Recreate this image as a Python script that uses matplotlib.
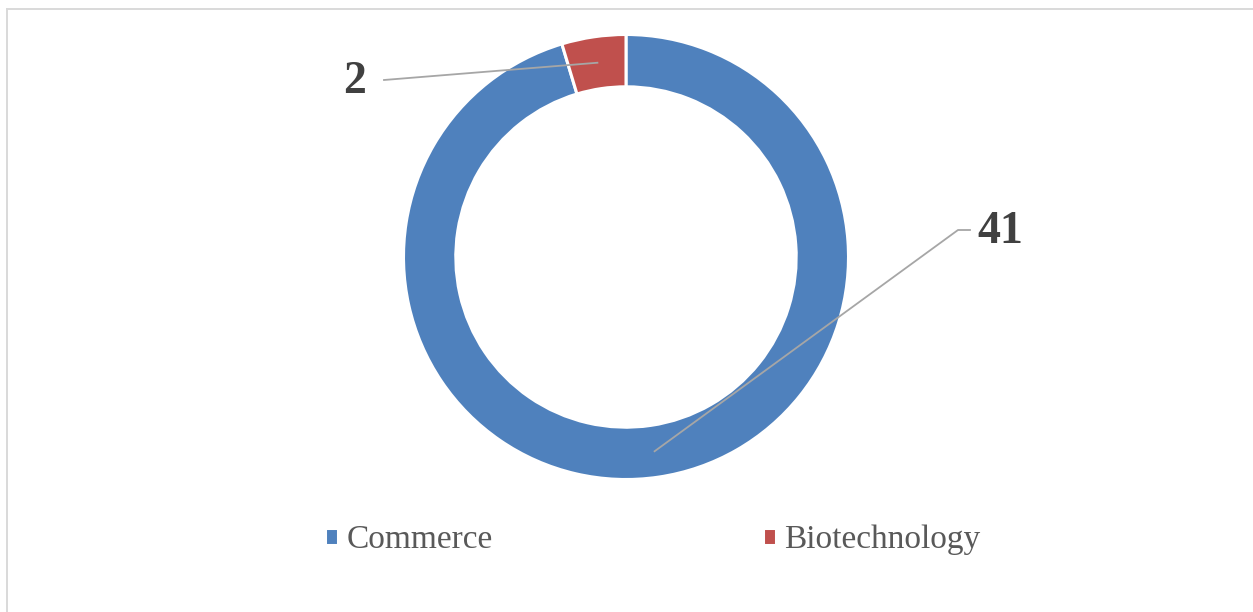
import numpy as np
import matplotlib
matplotlib.use("Agg")
import matplotlib.pyplot as plt
from matplotlib.lines import Line2D

categories = ["Commerce", "Biotechnology"]
values = [41, 2]
colors = ["#4f81bd", "#c0504d"]

W, H, DPI = 1253, 612, 100
plt.rcParams['font.family'] = ['Liberation Serif', 'DejaVu Serif']

fig = plt.figure(figsize=(W / DPI, H / DPI), dpi=DPI)
fig.patch.set_facecolor("white")

cx, cy, R = 626, 257, 222.5
ax = fig.add_axes([(cx - R) / W, (H - cy - R) / H, 2 * R / W, 2 * R / H])
ring = 0.235
wedges, _ = ax.pie(values, colors=colors, startangle=90, counterclock=False,
                   radius=1, wedgeprops=dict(width=ring, edgecolor="white", linewidth=2.2))
ax.set_xlim(-1, 1)
ax.set_ylim(-1, 1)
ax.set_aspect("equal")
ax.axis("off")

def px2d(px, py):
    return ((px - cx) / R, (cy - py) / R)

# label anchors from wedge midpoints
rmid = 1 - ring / 2
label_specs = [
    # (text pos px, elbow start px, elbow end px)
    ((1000, 232), (970, 230), (958, 230)),   # Commerce
    ((355, 82), (384, 80), (384, 80)),       # Biotechnology
]
for w, v, (tp, e1, e2) in zip(wedges, values, label_specs):
    ang = np.deg2rad((w.theta1 + w.theta2) / 2)
    ax_pt = (rmid * np.cos(ang), rmid * np.sin(ang))
    p1 = px2d(*e1)
    p2 = px2d(*e2)
    ax.plot([p1[0], p2[0], ax_pt[0]], [p1[1], p2[1], ax_pt[1]], color="#a6a6a6",
            lw=1.3, clip_on=False, zorder=5)
    t = px2d(*tp)
    ax.text(t[0], t[1], str(v), ha="center", va="center", fontsize=33,
            fontweight="bold", color="#404040", clip_on=False)

leg = fig.legend(wedges, categories, loc="center", ncol=2,
                 bbox_to_anchor=(653 / W, 1 - 540 / H), frameon=False,
                 fontsize=24, handlelength=0.38, handleheight=0.38,
                 handletextpad=0.26, columnspacing=8.1, labelcolor="#595959")

# chart border (top and left visible)
fig.add_artist(Line2D([7 / W, 1], [1 - 8.5 / H, 1 - 8.5 / H], transform=fig.transFigure,
                      color="#d9d9d9", lw=1.4))
fig.add_artist(Line2D([7 / W, 7 / W], [0, 1 - 8.5 / H], transform=fig.transFigure,
                      color="#d9d9d9", lw=1.4))

fig.savefig("out.png", dpi=DPI, facecolor="white")
